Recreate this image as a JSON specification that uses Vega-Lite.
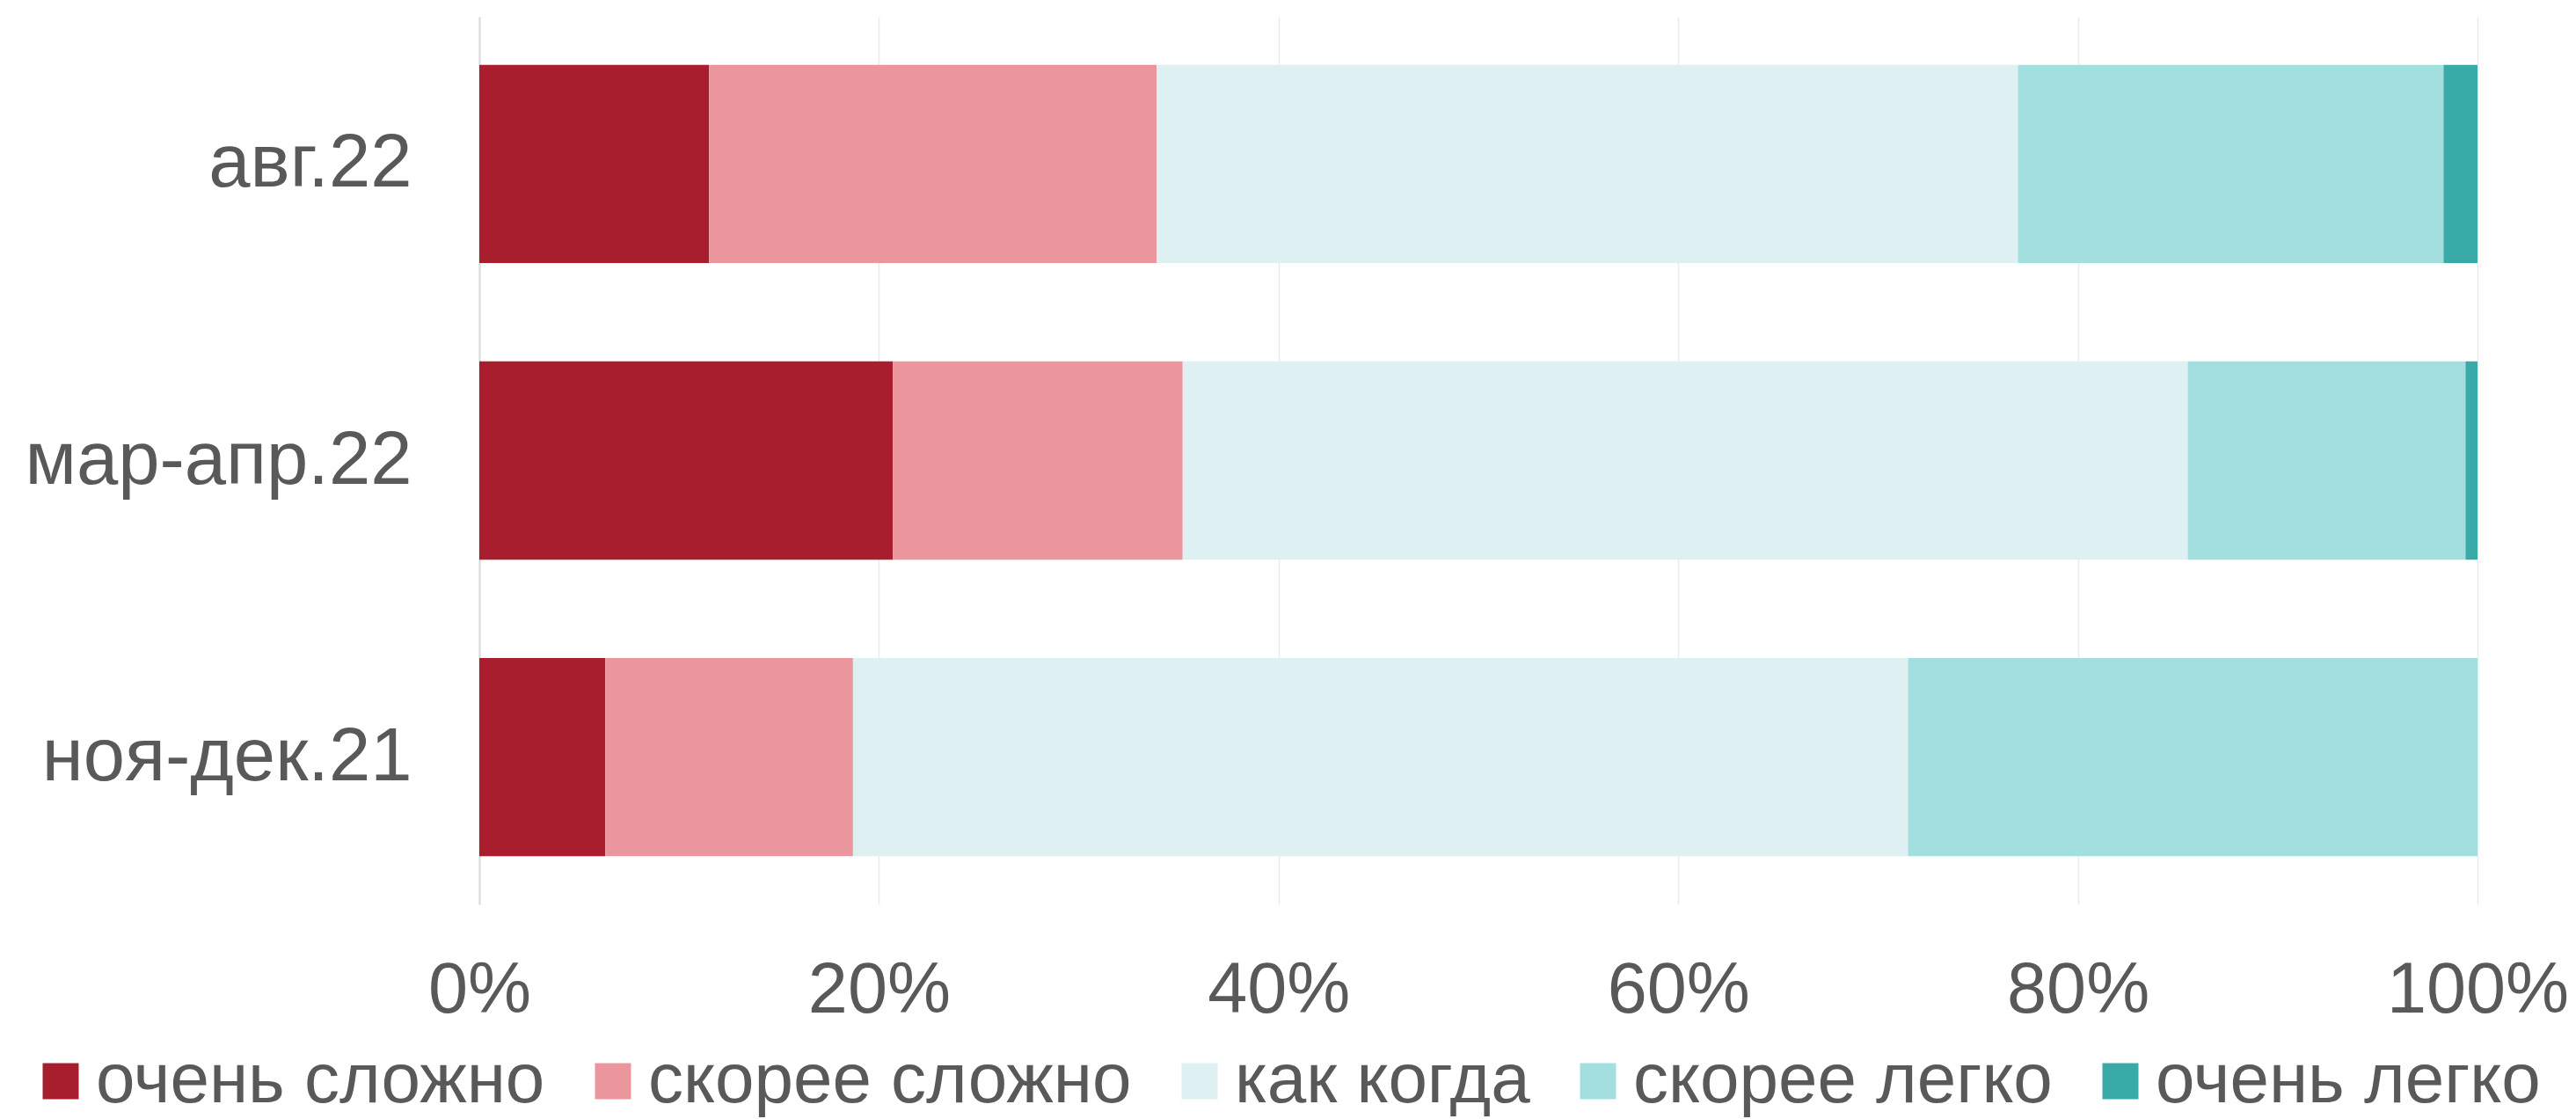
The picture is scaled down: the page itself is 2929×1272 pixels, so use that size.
{
  "$schema": "https://vega.github.io/schema/vega-lite/v6.json",
  "width": 2272,
  "height": 1009,
  "autosize": {"type": "none"},
  "padding": {"left": 545, "top": 19, "right": 112, "bottom": 244},
  "background": "white",
  "config": {"font": "Liberation Sans", "view": {"stroke": null}},
  "data": {
    "values": [
      {"period": "авг.22", "category": "очень сложно", "idx": 1, "value": 11.5},
      {"period": "авг.22", "category": "скорее сложно", "idx": 2, "value": 22.4},
      {"period": "авг.22", "category": "как когда", "idx": 3, "value": 43.1},
      {"period": "авг.22", "category": "скорее легко", "idx": 4, "value": 21.3},
      {"period": "авг.22", "category": "очень легко", "idx": 5, "value": 1.7},
      {"period": "мар-апр.22", "category": "очень сложно", "idx": 1, "value": 20.7},
      {"period": "мар-апр.22", "category": "скорее сложно", "idx": 2, "value": 14.5},
      {"period": "мар-апр.22", "category": "как когда", "idx": 3, "value": 50.3},
      {"period": "мар-апр.22", "category": "скорее легко", "idx": 4, "value": 13.9},
      {"period": "мар-апр.22", "category": "очень легко", "idx": 5, "value": 0.6},
      {"period": "ноя-дек.21", "category": "очень сложно", "idx": 1, "value": 6.3},
      {"period": "ноя-дек.21", "category": "скорее сложно", "idx": 2, "value": 12.4},
      {"period": "ноя-дек.21", "category": "как когда", "idx": 3, "value": 52.8},
      {"period": "ноя-дек.21", "category": "скорее легко", "idx": 4, "value": 28.5},
      {"period": "ноя-дек.21", "category": "очень легко", "idx": 5, "value": 0}
    ]
  },
  "mark": {"type": "bar"},
  "encoding": {
    "y": {
      "field": "period",
      "type": "nominal",
      "sort": ["авг.22", "мар-апр.22", "ноя-дек.21"],
      "scale": {"paddingInner": 0.332, "paddingOuter": 0.162},
      "axis": {
        "title": null,
        "ticks": false,
        "labelFontSize": 85,
        "labelColor": "#595959",
        "labelPadding": 77,
        "labelLimit": 2000,
        "domainColor": "#D9D9D9",
        "domainWidth": 2,
        "grid": false
      }
    },
    "x": {
      "field": "value",
      "type": "quantitative",
      "stack": "zero",
      "scale": {"domain": [0, 100], "nice": false},
      "axis": {
        "title": null,
        "values": [0, 20, 40, 60, 80, 100],
        "labelExpr": "datum.value + '%'",
        "labelFontSize": 81,
        "labelColor": "#595959",
        "labelPadding": 58,
        "labelLimit": 2000,
        "labelOverlap": false,
        "labelFlush": false,
        "ticks": false,
        "domain": false,
        "grid": true,
        "gridColor": "#EBEBEB",
        "gridWidth": 1.5
      }
    },
    "color": {
      "field": "category",
      "type": "nominal",
      "scale": {
        "domain": ["очень сложно", "скорее сложно", "как когда", "скорее легко", "очень легко"],
        "range": ["#A91E2E", "#EB959D", "#DEF0F2", "#A3DFDE", "#38AAA7"]
      },
      "legend": {
        "title": null,
        "orient": "none",
        "legendX": -516,
        "legendY": 1170,
        "direction": "horizontal",
        "symbolType": "square",
        "symbolSize": 1681,
        "symbolStrokeWidth": 0,
        "symbolOpacity": 1,
        "labelFontSize": 80,
        "labelColor": "#595959",
        "labelOffset": 0,
        "columnPadding": 37,
        "labelLimit": 2000
      }
    },
    "order": {"field": "idx", "type": "quantitative"}
  }
}
